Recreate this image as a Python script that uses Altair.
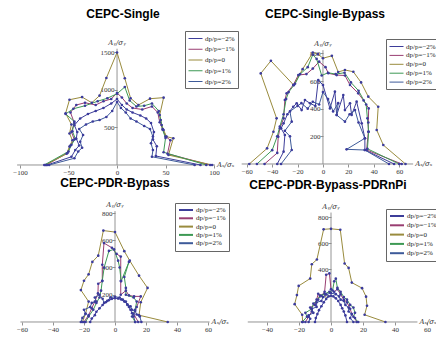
import altair as alt
import pandas as pd

LABELS = ["dp/p=−2%", "dp/p=−1%", "dp/p=0", "dp/p=1%", "dp/p=2%"]
COLORS = ["#3d3d99", "#993d71", "#998b3d", "#3d9954", "#3d5a99"]
DOT = "#3b3b9c"
TITLES = ["CEPC-Single", "CEPC-Single-Bypass", "CEPC-PDR-Bypass", "CEPC-PDR-Bypass-PDRnPi"]
XLABEL = "Aₓ/σₓ"
YLABEL = "Aᵧ/σᵧ"

# ---------------- Panel 1: CEPC-Single ----------------
P1_M2 = [(-72,0),(-47,110),(-43,200),(-39,260),(-42,350),(-41,440),(-44,530),(-38,620),(-30,680),(-22,720),(-14,760),(-6,820),(0,880),(5,800),(10,740),(16,700),(24,660),(30,620),(35,560),(38,440),(37,340),(41,250),(40,120),(86,0)]
P1_M1 = [(-73,0),(-51,160),(-48,260),(-44,340),(-47,440),(-44,560),(-48,700),(-42,800),(-33,830),(-22,800),(-14,850),(-6,880),(0,960),(5,900),(10,820),(16,760),(26,740),(36,780),(42,700),(44,570),(47,480),(50,380),(55,330),(52,150),(96,0)]
P1_0 = [(-74,0),(-52,150),(-49,245),(-46,330),(-49,420),(-47,540),(-53,690),(-49,870),(-36,905),(-26,830),(-18,925),(-11,1160),(0,1500),(8,1156),(14,890),(22,800),(34,884),(48,898),(44,667),(46,533),(48,467),(51,378),(58,356),(53,133),(98,0)]
P1_P1 = [(-75,0),(-50,180),(-47,270),(-43,350),(-46,450),(-44,580),(-53,680),(-45,750),(-33,790),(-20,850),(-10,890),(0,950),(8,1040),(13,860),(20,780),(28,790),(36,820),(43,720),(45,600),(47,470),(50,360),(48,170),(92,0)]
P1_P2 = [(-70,0),(-44,90),(-40,180),(-36,230),(-38,310),(-35,400),(-39,480),(-32,540),(-25,580),(-18,600),(-11,640),(-5,720),(0,840),(4,760),(9,700),(14,620),(20,580),(28,520),(34,480),(37,380),(35,290),(37,200),(36,110),(80,0)]

# ---------------- Panel 2: CEPC-Single-Bypass ----------------
P2_M2 = [(-36,0),(-31,89),(-30,210),(-33,258),(-31,294),(-28,360),(-23.4,414),(-20.7,439),(-16.8,390),(-14.2,463),(-10.2,439),(-6,420),(-3.7,607),(0,571),(5.5,402),(9.4,523),(10.8,354),(16,499),(17.3,390),(21.3,439),(22.6,354),(26.5,451),(30.5,294),(33,186),(33,101),(56,0)]
P2_M1 = [(-46,0),(-36,80),(-35.2,197),(-33.9,258),(-31,330),(-30,463),(-28.6,511),(-23.4,571),(-19.4,643),(-13,650),(-8,690),(-3,740),(2,700),(4.2,656),(10.8,643),(17.3,640),(21.3,571),(27.8,511),(32,460),(36,402),(35.7,300),(35.7,233),(34.4,101),(62,0)]
P2_0 = [(-58,0),(-44,113),(-39,233),(-36.5,330),(-49,655),(-41,746),(-23,570),(-16,686),(-8,806),(-4,795),(0,765),(7,782),(12,665),(17.3,680),(23.9,667),(30,590),(35.7,487),(43.5,414),(42.3,246),(47.5,137),(65,0)]
P2_P1 = [(-52,0),(-40,100),(-36,200),(-34,270),(-31,360),(-29,470),(-27,520),(-22,580),(-18,650),(-12,700),(-8,790),(-5,760),(-1,640),(4,660),(10,650),(17,660),(22,590),(28,530),(34,430),(35,330),(36,233),(35,110),(60,0)]
P2_P2 = [(-33,0),(-24.6,101),(-26,200),(-30,240),(-24.6,306),(-26,380),(-20,420),(-17,440),(-12,400),(-8,450),(-3,430),(0,520),(4,470),(8,380),(12,440),(10.8,354),(17.3,306),(21,360),(25.2,390),(28,300),(33,186),(18.6,106),(33,101),(52,0)]

# ---------------- Panel 3: CEPC-PDR-Bypass ----------------
P3_M2 = [(-16,0),(-15,25),(-13,50),(-12,75),(-10,100),(-8,125),(-6,145),(-4,160),(-2,170),(0,175),(2,172),(4,165),(6,150),(8,130),(9,110),(10,90),(11,65),(12,40),(13,0)]
P3_M1 = [(-20,0),(-17,50),(-15,100),(-13,150),(-11,210),(-10.8,281),(-8.2,300),(-8.2,420),(-7.1,579),(-2,545),(1,500),(3.7,480),(3.7,300),(3.7,200),(7,230),(9,195),(12.3,188),(16.6,188),(14,110),(12,60),(15,0)]
P3_0 = [(-21,0),(-19,60),(-17,150),(-22,234),(-20,303),(-17,350),(-14.6,441),(-10.8,487),(-7.5,671),(0,660),(6,520),(9.5,450),(15.5,340),(21,250),(16.6,145),(15.5,50),(34,0)]
P3_P1 = [(-19,0),(-17,40),(-14,90),(-12,140),(-10,180),(-9,230),(-8.2,303),(-7,400),(-3.9,522),(-0.6,533),(2,450),(3,400),(4,300),(9,441),(6,330),(7,250),(7,200),(12,180),(14,150),(13,90),(11,40),(13,0)]
P3_P2 = [(-22,0),(-21,30),(-19,60),(-20,90),(-16,110),(-15,140),(-12,150),(-13,180),(-10,200),(-8,170),(-7,140),(-5,155),(-3,180),(0,185),(3,180),(5,165),(7,150),(8,125),(10,115),(11,90),(13,80),(14,55),(16,40),(17,0)]

# ---------------- Panel 4: CEPC-PDR-Bypass-PDRnPi ----------------
P4_M2 = [(-10,0),(-9.5,30),(-8.5,60),(-7.5,90),(-6,120),(-4.5,150),(-3,175),(-1.5,195),(0,200),(1.5,195),(3,180),(4.5,160),(6,130),(7,105),(8,80),(9,50),(10,0)]
P4_M1 = [(-16,0),(-14,40),(-12,80),(-13,110),(-10,130),(-9,170),(-8,215),(-6,200),(-4,230),(-3,360),(-1,370),(0,250),(2,230),(4,250),(6,210),(8,170),(10,150),(12,100),(13,60),(15,30),(16,0)]
P4_0 = [(-17.7,0),(-18,55),(-22.7,136),(-21.3,205),(-20.2,275),(-13,331),(-12,440),(-8.8,476),(-4.6,706),(0,710),(5.8,703),(8.5,446),(11,412),(13,300),(19.4,258),(21.9,193),(22.5,124),(21,55),(34,0)]
P4_P1 = [(-18,0),(-15,40),(-16,70),(-12,100),(-11,140),(-8,170),(-7,200),(-4,215),(-1,230),(1,240),(2,310),(3,330),(4,260),(6,230),(8,190),(10,170),(12,130),(14,110),(15,70),(14,40),(17,0)]
P4_P2 = [(-14,0),(-13,25),(-14,50),(-11,70),(-12,100),(-9,115),(-9,150),(-6,160),(-5,190),(-3,210),(0,220),(3,212),(5,195),(6,170),(8,160),(9,130),(11,110),(11,80),(13,60),(12,30),(14,0)]

# tick values
P1_XT = [-100, -50, 0, 50, 100]
P1_YT = [500, 1000, 1500]
P2_XT = [-60, -40, -20, 0, 20, 40, 60]
P2_YT = [200, 400, 600, 800]
P3_XT = [-60, -40, -20, 0, 20, 40, 60]
P3_YT = [200, 400, 600, 800]
P4_XT = [-40, -20, 0, 20, 40, 60]
P4_YT = [200, 400, 600, 800]

# axis extents in data units: (xmin, xmax, ymax)
P1_AX = (-103, 101, 1550)
P2_AX = (-64, 71, 823)
P3_AX = (-61, 61, 814)
P4_AX = (-52, 54, 834)

# layout (pixels)
GEO = [
    dict(w=214, h=162, xdom=[-112.4, 108.2], ydom=[-66.7, 2093.3], xoff=-5, yoff=-109,
         tdx=8, toff=-12.5, lx=177, ly=23, lrow=2.75, lsize=64, lsw=1),
    dict(w=214, h=162, xdom=[-79.5, 89.0], ydom=[-43.4, 1128.0], xoff=-6, yoff=-101,
         tdx=-4, toff=-13, lx=164, ly=31, lrow=0.9, lsize=64, lsw=1),
    dict(w=214, h=162, xdom=[-69.0, 69.0], ydom=[-73.4, 1115.6], xoff=-10, yoff=-107,
         tdx=0, toff=-19.5, lx=167, ly=33, lrow=0.3, lsize=36, lsw=2),
    dict(w=214, h=162, xdom=[-68.1, 65.6], ydom=[-76.2, 1158.1], xoff=-10, yoff=-109,
         tdx=-1, toff=-21.5, lx=164, ly=39, lrow=1.3, lsize=36, lsw=2),
]


def build(k, title, series, xt, yt, ax):
    g = GEO[k]
    rows = []
    for lab, pts in zip(LABELS, series):
        for i, (x, y) in enumerate(pts):
            rows.append(dict(s=lab, i=i, x=x, y=y))
    df = pd.DataFrame(rows)
    xmin, xmax, ymax = ax
    xs = alt.Scale(domain=g["xdom"], nice=False, zero=False)
    ys = alt.Scale(domain=g["ydom"], nice=False, zero=False)
    common = dict(domain=False, grid=False, title=None, tickSize=3, tickColor="#777",
                  tickWidth=0.8, labelFont="Liberation Serif", labelFontSize=7,
                  labelColor="#333", format="d", labelPadding=0, labelOverlap=False,
                  labelFlush=False)
    xaxis = alt.Axis(values=xt, offset=g["xoff"], **common)
    yaxis = alt.Axis(values=yt, offset=g["yoff"], **common)
    X = alt.X("x:Q", scale=xs, axis=xaxis)
    Y = alt.Y("y:Q", scale=ys, axis=yaxis)

    hline = alt.Chart(pd.DataFrame([dict(x=xmin, x2=xmax, y=0)])).mark_rule(
        color="#888", strokeWidth=0.9).encode(x=X, x2="x2:Q", y=Y)
    vline = alt.Chart(pd.DataFrame([dict(x=0, y=0, y2=ymax)])).mark_rule(
        color="#888", strokeWidth=0.9).encode(x=X, y=Y, y2="y2:Q")

    r = g["lsize"] ** 0.5
    legend = alt.Legend(title=None, orient="none", legendX=g["lx"], legendY=g["ly"],
                        symbolType="M-1,0H%.3f" % (28.0 / r - 1), symbolSize=g["lsize"],
                        symbolStrokeWidth=g["lsw"],
                        labelFont="Liberation Serif", labelFontSize=7, labelColor="#222",
                        labelOffset=16 - r, padding=3, rowPadding=g["lrow"],
                        strokeColor="#666", fillColor="white")
    lines = alt.Chart(df).mark_line(strokeWidth=1).encode(
        x=X, y=Y, order="i:Q",
        color=alt.Color("s:N", scale=alt.Scale(domain=LABELS, range=COLORS), legend=legend))
    pts = alt.Chart(df).mark_circle(size=7, color=DOT, opacity=1).encode(x=X, y=Y)
    xt_txt = alt.Chart(pd.DataFrame([dict(x=xmax, y=0, t=XLABEL)])).mark_text(
        align="left", baseline="middle", dx=2, font="DejaVu Serif", fontStyle="italic",
        fontSize=7, color="#333").encode(x=X, y=Y, text="t:N")
    yt_txt = alt.Chart(pd.DataFrame([dict(x=0, y=ymax, t=YLABEL)])).mark_text(
        align="center", baseline="bottom", dy=-3, font="DejaVu Serif", fontStyle="italic",
        fontSize=7, color="#333").encode(x=X, y=Y, text="t:N")

    return alt.layer(hline, vline, lines, pts, xt_txt, yt_txt).properties(
        width=g["w"], height=g["h"],
        title=alt.TitleParams(title, anchor="middle", frame="group", dx=g["tdx"],
                              offset=g["toff"], font="Liberation Sans", fontSize=12,
                              fontWeight="bold", color="black"))


p1 = build(0, TITLES[0], [P1_M2, P1_M1, P1_0, P1_P1, P1_P2], P1_XT, P1_YT, P1_AX)
p2 = build(1, TITLES[1], [P2_M2, P2_M1, P2_0, P2_P1, P2_P2], P2_XT, P2_YT, P2_AX)
p3 = build(2, TITLES[2], [P3_M2, P3_M1, P3_0, P3_P1, P3_P2], P3_XT, P3_YT, P3_AX)
p4 = build(3, TITLES[3], [P4_M2, P4_M1, P4_0, P4_P1, P4_P2], P4_XT, P4_YT, P4_AX)

chart = alt.concat(p1, p2, p3, p4, columns=2, spacing=0, bounds="flush").resolve_scale(
    x="independent", y="independent", color="independent").resolve_legend(
    color="independent").configure_view(stroke=None).properties(
    autosize=alt.AutoSizeParams(type="none"),
    padding={"left": 0, "top": 0, "right": 428, "bottom": 324})

chart.save("out.html", embed_options={"renderer": "svg", "actions": False})
